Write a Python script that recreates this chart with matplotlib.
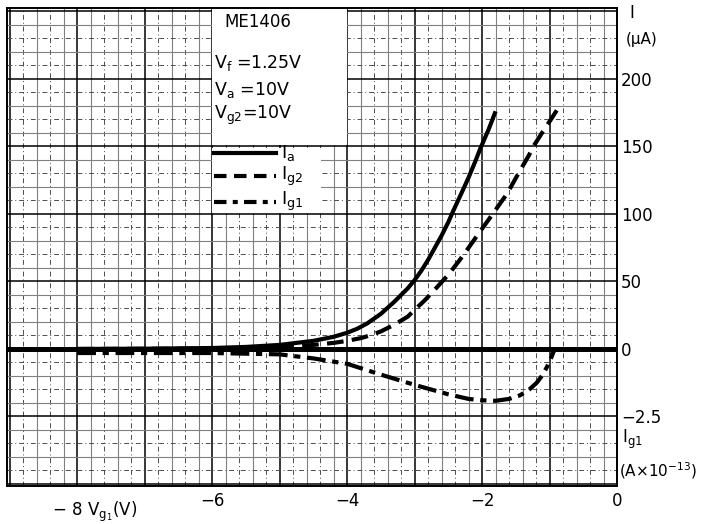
import matplotlib
matplotlib.use("Agg")
import matplotlib.pyplot as plt
import numpy as np
from matplotlib.patches import Rectangle

vg_a = [-8, -7, -6, -5.5, -5, -4.5, -4.2, -4, -3.85, -3.7, -3.5, -3.3, -3.1, -3, -2.9, -2.8, -2.7, -2.6,
        -2.5, -2.43, -2.3, -2.2, -2.1, -2.03, -1.9, -1.8]
ia = [0, 0.2, 0.7, 1.5, 3, 6, 9, 12, 15, 19, 26, 35, 45, 51, 58, 66, 75, 84,
      94, 102, 116, 127, 139, 148, 163, 176]

vg_g2 = [-8, -6, -5, -4.5, -4.2, -4, -3.8, -3.66, -3.5, -3.3, -3.1, -3, -2.85, -2.7, -2.5, -2.33, -2.2,
         -2.03, -1.9, -1.8, -1.63, -1.45, -1.3, -1.24, -1.1, -0.98, -0.89]
ig2 = [0, 0.2, 1, 3, 4.5, 6, 8, 10, 13, 18, 24, 29, 36, 44, 55, 66, 75,
       87, 96, 103, 115, 131, 144, 150, 161, 170, 177]

# Ig1 in units of 1e-13 A
vg_g1 = [-8, -7, -6, -5, -4.5, -4, -3.5, -3, -2.5, -2.2, -2, -1.8, -1.6, -1.44, -1.3, -1.19, -1.1,
         -1.04, -0.98, -0.94, -0.92]
ig1 = [-0.15, -0.15, -0.15, -0.2, -0.35, -0.55, -0.95, -1.33, -1.68, -1.85, -1.9, -1.92, -1.85, -1.72,
       -1.5, -1.25, -0.95, -0.67, -0.35, -0.1, 0]
ig1_scale = 20  # one 1e-13 A unit in uA axis units

xticks = [-8, -6, -4, -2, 0]
xtick_labels = ["", "\u22126", "\u22124", "\u22122", "0"]
yticks = [200, 150, 100, 50, 0, -50]
ytick_labels = ["200", "150", "100", "50", "0", "\u22122.5"]

fig = plt.figure(figsize=(7.1, 5.24), dpi=100)
ax = fig.add_axes([0.0099, 0.0725, 0.8592, 0.9122])
ax.set_xlim(-9.04, 0)
ax.set_ylim(-101.5, 252.5)

# graph-paper grid
dashdot = (0, (5, 3, 1, 3))
for i, x in enumerate(np.arange(-9.0, 0.01, 0.2)):
    if abs(x - round(x)) < 1e-6:
        ax.axvline(x, color="black", lw=1.1, zorder=1)
    elif i % 2 == 0:
        ax.axvline(x, color="0.5", lw=0.8, zorder=1)
    else:
        ax.axvline(x, color="0.3", lw=0.7, ls=dashdot, zorder=1)
for y in range(-100, 251, 10):
    if y % 50 == 0:
        ax.axhline(y, color="black", lw=1.1, zorder=1)
    elif y % 20 == 0:
        ax.axhline(y, color="0.5", lw=0.8, zorder=1)
    else:
        ax.axhline(y, color="0.3", lw=0.7, ls=dashdot, zorder=1)

# white area behind the annotation block
ax.add_patch(Rectangle((-6.0, 151), 2.0, 105, facecolor="white", edgecolor="none", zorder=2))
ax.add_patch(Rectangle((-6.0, 101), 1.0, 48, facecolor="white", edgecolor="none", zorder=2))
ax.add_patch(Rectangle((-5.0, 101), 0.62, 48, facecolor="white", edgecolor="none", zorder=2))

ax.axhline(0, color="black", lw=3.6, zorder=3)

ax.plot(vg_a, ia, color="black", lw=3, solid_capstyle="butt", zorder=4)
ax.plot(vg_g2, ig2, color="black", lw=3, dashes=(4, 2), zorder=4)
ax.plot(vg_g1, np.array(ig1) * ig1_scale, color="black", lw=3, dashes=(4.5, 1.6, 1.5, 1.6), zorder=4)

# legend drawn by hand as on the sheet
ax.plot([-5.97, -5.05], [145, 145], color="black", lw=3, zorder=5)
ax.plot([-5.97, -5.05], [128, 128], color="black", lw=3, dashes=(3, 1.8), zorder=5)
ax.plot([-5.97, -5.05], [109, 109], color="black", lw=3, dashes=(3, 1.5, 1.2, 1.5), zorder=5)
ax.text(-4.98, 145, "I$_\\mathrm{a}$", fontsize=13, va="center", zorder=5)
ax.text(-4.98, 128, "I$_\\mathrm{g2}$", fontsize=13, va="center", zorder=5)
ax.text(-4.98, 109, "I$_\\mathrm{g1}$", fontsize=13, va="center", zorder=5)

ax.text(-5.82, 242, "ME1406", fontsize=12, va="center", zorder=5)
ax.text(-5.97, 212, "V$_\\mathrm{f}$ =1.25V", fontsize=12.5, va="center", zorder=5)
ax.text(-5.97, 192, "V$_\\mathrm{a}$ =10V", fontsize=12.5, va="center", zorder=5)
ax.text(-5.97, 173, "V$_\\mathrm{g2}$=10V", fontsize=12.5, va="center", zorder=5)

for s in ax.spines.values():
    s.set_color("black")
    s.set_linewidth(1.4)
    s.set_zorder(6)

ax.set_xticks(xticks)
ax.set_xticklabels(xtick_labels, fontsize=12)
ax.yaxis.tick_right()
ax.set_yticks(yticks)
ax.set_yticklabels(ytick_labels, fontsize=12)
ax.tick_params(length=0, pad=4)
ax.tick_params(axis="y", pad=3)

ax.text(-8.37, -112, "\u2212 8 V$_{\\mathrm{g}_1}$(V)", fontsize=12, va="top", ha="left", clip_on=False)
ax.text(1.02, 0.99, "I", transform=ax.transAxes, fontsize=12, va="center", ha="left")
ax.text(1.015, 0.935, "(\u03bcA)", transform=ax.transAxes, fontsize=11, va="center", ha="left")
ax.text(0.07, -67, "I$_{\\mathrm{g1}}$", fontsize=12, va="center", ha="left", clip_on=False)
ax.text(0.03, -90, "(A\u00d710$^{-13}$)", fontsize=11, va="center", ha="left", clip_on=False)

fig.savefig("out.png", dpi=100, facecolor="white")
